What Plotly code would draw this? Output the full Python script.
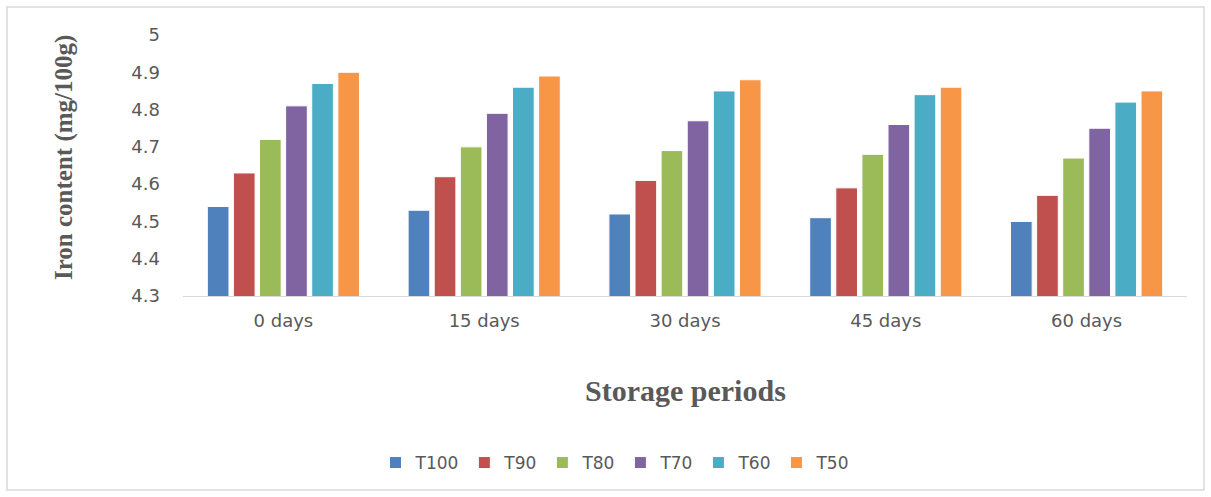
import plotly.graph_objects as go

categories = ["0 days", "15 days", "30 days", "45 days", "60 days"]
series_names = ["T100", "T90", "T80", "T70", "T60", "T50"]
T100 = [4.54, 4.53, 4.52, 4.51, 4.50]
T90 = [4.63, 4.62, 4.61, 4.59, 4.57]
T80 = [4.72, 4.70, 4.69, 4.68, 4.67]
T70 = [4.81, 4.79, 4.77, 4.76, 4.75]
T60 = [4.87, 4.86, 4.85, 4.84, 4.82]
T50 = [4.90, 4.89, 4.88, 4.86, 4.85]
y_ticks = [4.3, 4.4, 4.5, 4.6, 4.7, 4.8, 4.9, 5.0]
y_tick_labels = ["4.3", "4.4", "4.5", "4.6", "4.7", "4.8", "4.9", "5"]

colors = ["#4F81BD", "#C0504D", "#9BBB59", "#8064A2", "#4BACC6", "#F79646"]
values = [T100, T90, T80, T70, T60, T50]

fig = go.Figure()
for name, vals, c in zip(series_names, values, colors):
    fig.add_trace(go.Bar(x=categories, y=vals, name=name,
                         marker=dict(color=c, line=dict(color="white", width=1))))

W, H = 1211, 497
L, R, T, B = 183, 24, 35, 201
pw, ph = W - L - R, H - T - B

def px(x):
    return (x - L) / pw

def py(y):
    return (H - B - y) / ph

tick_font = dict(family="DejaVu Sans", size=18, color="#595959")

fig.update_layout(
    width=W, height=H,
    margin=dict(l=L, r=R, t=T, b=B),
    paper_bgcolor="white", plot_bgcolor="white",
    barmode="group", bargap=0.22, bargroupgap=0.17,
    font=tick_font,
    xaxis=dict(showline=True, linecolor="#D9D9D9", linewidth=1, ticks="", showgrid=False,
               tickfont=tick_font, ticklabelstandoff=8),
    yaxis=dict(range=[4.3, 5.0], tickvals=y_ticks, ticktext=y_tick_labels, showgrid=False,
               showline=False, zeroline=False, ticks="", ticklabelstandoff=22,
               tickfont=tick_font),
    legend=dict(orientation="h", x=px(615), xanchor="center", y=py(463), yanchor="middle",
                font=dict(family="DejaVu Sans", size=17, color="#595959"), traceorder="normal"),
    showlegend=True,
)

fig.add_shape(type="rect", xref="paper", yref="paper",
              x0=px(7), x1=px(1204), y0=py(490), y1=py(7),
              line=dict(color="#D9D9D9", width=1.5), fillcolor="rgba(0,0,0,0)", layer="below")

fig.add_annotation(text="<b>Iron content (mg/100g)</b>", xref="paper", yref="paper",
                   x=px(64), y=py(158), textangle=-90, showarrow=False,
                   font=dict(family="Liberation Serif, Times New Roman", size=25, color="#595959"),
                   xanchor="center", yanchor="middle")
fig.add_annotation(text="<b>Storage periods</b>", xref="paper", yref="paper",
                   x=px(685), y=py(390), showarrow=False,
                   font=dict(family="Liberation Serif, Times New Roman", size=30, color="#595959"),
                   xanchor="center", yanchor="middle")

fig.write_html("out.html", config={"displayModeBar": False},
               post_script="document.body.style.margin='0px';document.body.style.padding='0px';")
